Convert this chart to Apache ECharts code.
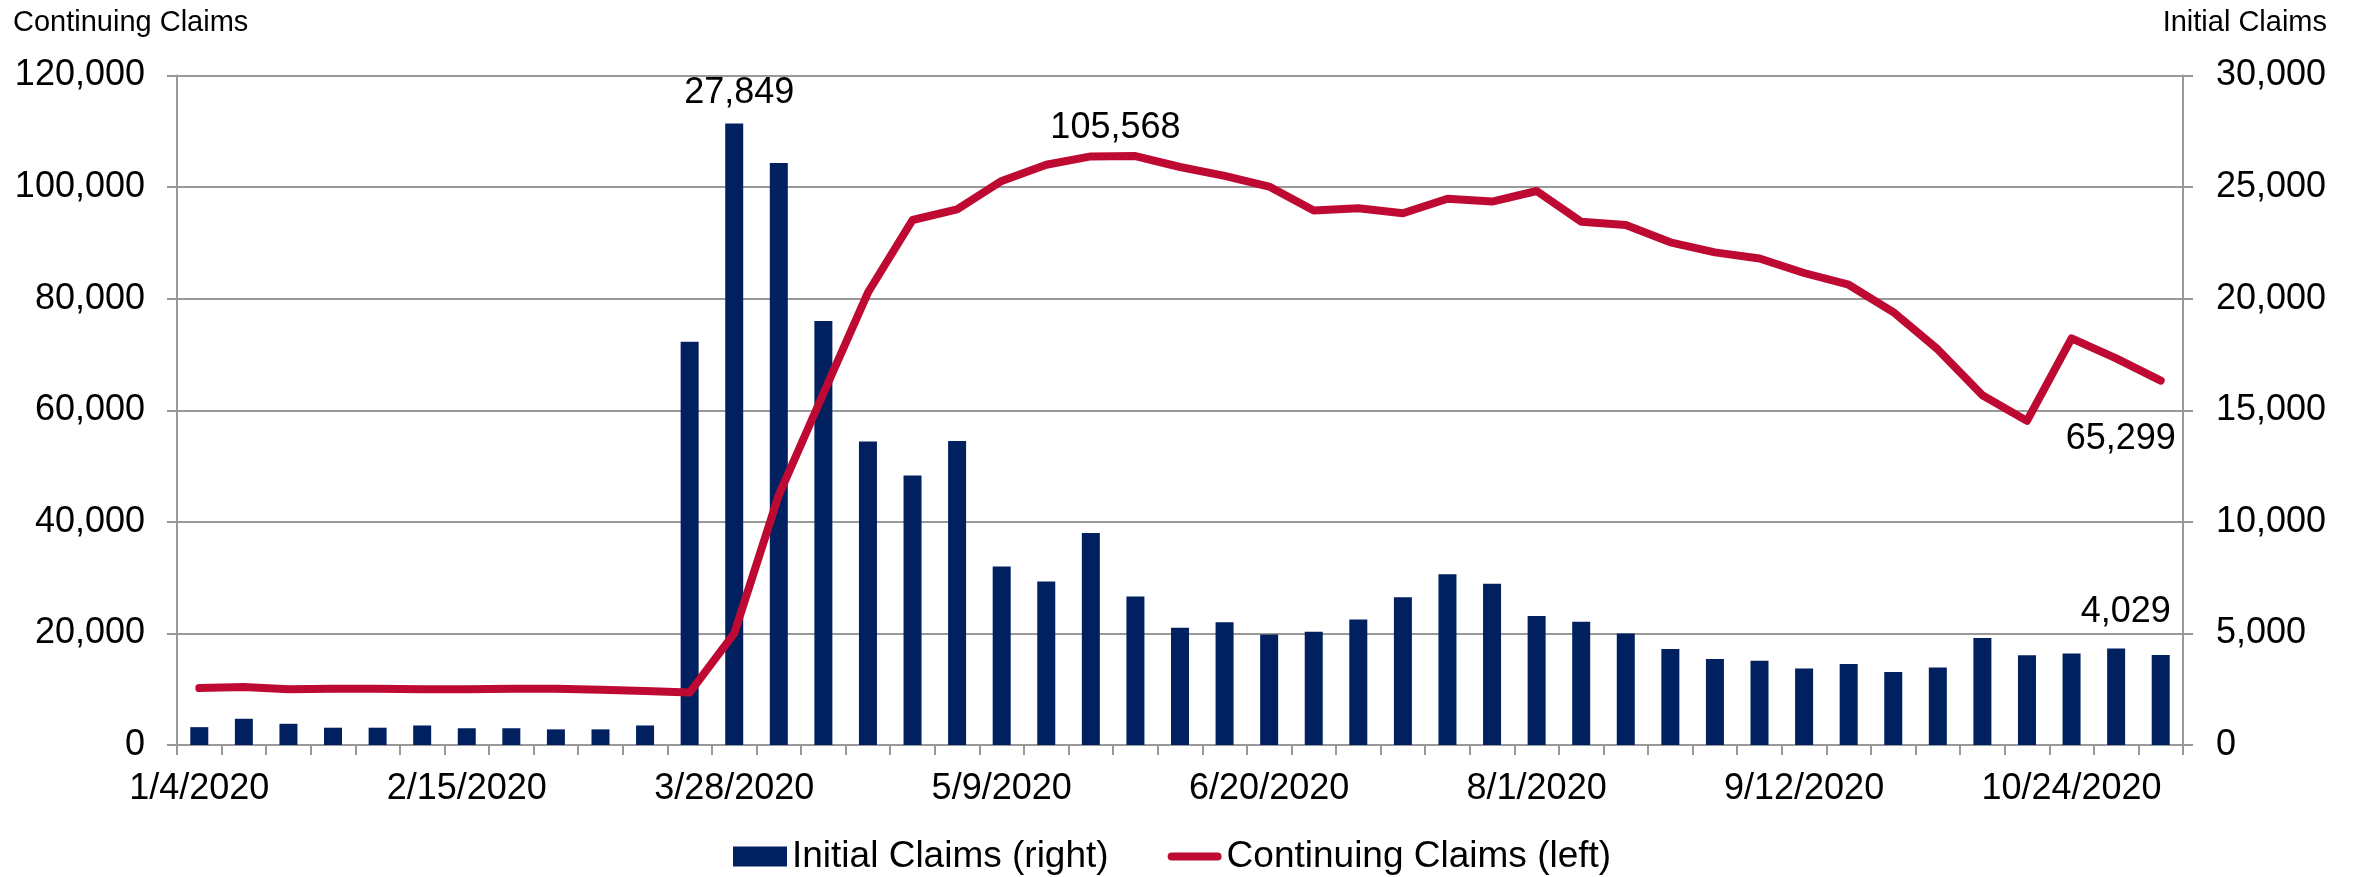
<!DOCTYPE html>
<html><head><meta charset="utf-8">
<script src="https://cdn.jsdelivr.net/npm/echarts@6/dist/echarts.min.js"></script>
<style>html,body{margin:0;padding:0;background:#fff}#c{width:2361px;height:877px}</style>
</head><body><div id="c"></div>
<script>
const categories = ['1/4/2020','1/11/2020','1/18/2020','1/25/2020','2/1/2020','2/8/2020','2/15/2020','2/22/2020','2/29/2020','3/7/2020','3/14/2020','3/21/2020','3/28/2020','4/4/2020','4/11/2020','4/18/2020','4/25/2020','5/2/2020','5/9/2020','5/16/2020','5/23/2020','5/30/2020','6/6/2020','6/13/2020','6/20/2020','6/27/2020','7/4/2020','7/11/2020','7/18/2020','7/25/2020','8/1/2020','8/8/2020','8/15/2020','8/22/2020','8/29/2020','9/5/2020','9/12/2020','9/19/2020','9/26/2020','10/3/2020','10/10/2020','10/17/2020','10/24/2020','10/31/2020','11/7/2020'];
const initialClaims = [800,1175,950,775,775,875,750,750,700,700,875,18075,27849,26075,19000,13600,12075,13625,8000,7325,9500,6650,5250,5500,4950,5075,5625,6625,7650,7225,5775,5525,5000,4300,3850,3775,3425,3625,3275,3475,4800,4025,4100,4325,4029];
const continuingClaims = [10200,10400,10000,10100,10100,10000,10000,10100,10100,9900,9700,9400,20000,44800,63000,81100,94100,96000,101100,104000,105500,105568,103600,102000,100100,95800,96200,95300,97900,97400,99300,93800,93200,90100,88300,87200,84600,82500,77600,70900,62700,58100,72900,69300,65299];
const leftAxis = {min: 0, max: 120000, interval: 20000};
const rightAxis = {min: 0, max: 30000, interval: 5000};
const seriesNames = ['Initial Claims (right)', 'Continuing Claims (left)'];
const axisNames = ['Continuing Claims', 'Initial Claims'];

const FONT = "'Liberation Sans', Arial, sans-serif";
const GRAY = '#999999';
const BAR = '#002060';
const RED = '#BE0A32';
const fmt = v => Number(v).toLocaleString('en-US');

const barMax = initialClaims.indexOf(Math.max(...initialClaims));
const lineMax = continuingClaims.indexOf(Math.max(...continuingClaims));
const last = categories.length - 1;
const lbl = (pos, dist, off) => ({show: true, position: pos, distance: dist, offset: off,
  fontSize: 36, fontFamily: FONT, color: '#000', formatter: p => fmt(p.value)});

const barData = initialClaims.map((v, i) => {
  if (i === barMax) return {value: v, label: lbl('top', 12, [5, 0])};
  if (i === last) return {value: v, label: lbl('top', 25, [-35, 0])};
  return v;
});
const lineData = continuingClaims.map((v, i) => {
  if (i === lineMax) return {value: v, label: lbl('top', 9, [-20, 0])};
  if (i === last) return {value: v, label: lbl('bottom', 40, [-40, 0])};
  return v;
});

const chart = echarts.init(document.getElementById('c'), null, {renderer: 'canvas'});
chart.setOption({
  animation: false,
  backgroundColor: '#fff',
  textStyle: {fontFamily: FONT},
  title: [
    {text: axisNames[0], left: 13, top: 8, padding: 0, textStyle: {fontSize: 29, fontWeight: 'normal', color: '#000', fontFamily: FONT}},
    {text: axisNames[1], right: 34, top: 8, padding: 0, textStyle: {fontSize: 29, fontWeight: 'normal', color: '#000', fontFamily: FONT}}
  ],
  grid: {left: 177, right: 178, top: 75.5, bottom: 132, containLabel: false},
  legend: {
    data: [
      {name: seriesNames[0], icon: 'rect'},
      {name: seriesNames[1], icon: 'path://M4.5,0H54.5A4.5,4.5,0,0,1,54.5,9H4.5A4.5,4.5,0,0,1,4.5,0Z', itemStyle: {color: RED}}
    ],
    left: 733, top: 838, padding: 0, itemGap: 59, itemWidth: 54, itemHeight: 20,
    textStyle: {fontSize: 37, color: '#000', fontFamily: FONT}
  },
  xAxis: {
    type: 'category', data: categories, boundaryGap: true,
    axisLine: {show: true, lineStyle: {color: GRAY, width: 2}},
    axisTick: {show: true, interval: 0, length: 10, lineStyle: {color: GRAY, width: 2}},
    axisLabel: {interval: 5, margin: 26, fontSize: 36, color: '#000', fontFamily: FONT},
    splitLine: {show: false}
  },
  yAxis: [
    {type: 'value', position: 'left', min: leftAxis.min, max: leftAxis.max, interval: leftAxis.interval,
     axisLine: {show: true, lineStyle: {color: GRAY, width: 2}},
     axisTick: {show: true, length: 10, lineStyle: {color: GRAY, width: 2}},
     axisLabel: {margin: 32, fontSize: 36, color: '#000', fontFamily: FONT, formatter: fmt},
     splitLine: {show: true, lineStyle: {color: GRAY, width: 2}}},
    {type: 'value', position: 'right', min: rightAxis.min, max: rightAxis.max, interval: rightAxis.interval,
     axisLine: {show: true, lineStyle: {color: GRAY, width: 2}},
     axisTick: {show: true, length: 10, lineStyle: {color: GRAY, width: 2}},
     axisLabel: {margin: 33, fontSize: 36, color: '#000', fontFamily: FONT, formatter: fmt},
     splitLine: {show: false}}
  ],
  series: [
    {name: seriesNames[0], type: 'bar', yAxisIndex: 1, data: barData, barWidth: 18,
     itemStyle: {color: BAR}},
    {name: seriesNames[1], type: 'line', yAxisIndex: 0, data: lineData, symbol: 'circle', symbolSize: 1, showSymbol: true,
     lineStyle: {color: RED, width: 8, cap: 'round', join: 'round'}, itemStyle: {color: RED}}
  ]
});
</script></body></html>
